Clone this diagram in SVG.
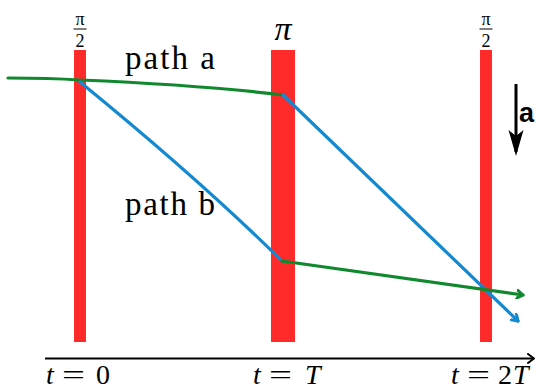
<svg xmlns="http://www.w3.org/2000/svg" width="539" height="390" viewBox="0 0 539 390">
<style>
.bar{fill:#ff2b2b}
.g{fill:none;stroke:#10892e;stroke-width:3.2;stroke-linecap:round;stroke-linejoin:round}
.b{fill:none;stroke:#1289d0;stroke-width:3.2;stroke-linecap:round;stroke-linejoin:round}
.sf{font-family:'Liberation Serif','DejaVu Serif',serif}
.ax{font-family:'Liberation Serif','DejaVu Serif',serif;font-size:28px}
</style>
<defs>
<marker id="ag" markerWidth="10" markerHeight="10" refX="7" refY="5" orient="auto" markerUnits="userSpaceOnUse"><path d="M1,1 L7,5 L1,9" fill="none" stroke="#10892e" stroke-width="3" stroke-linecap="round" stroke-linejoin="round"/></marker>
<marker id="ab" markerWidth="10" markerHeight="10" refX="7" refY="5" orient="auto" markerUnits="userSpaceOnUse"><path d="M1,1 L7,5 L1,9" fill="none" stroke="#1289d0" stroke-width="3" stroke-linecap="round" stroke-linejoin="round"/></marker>
<marker id="ak" markerWidth="12" markerHeight="12" refX="8" refY="6" orient="auto" markerUnits="userSpaceOnUse"><path d="M2,1.5 L8,6 L2,10.5" fill="none" stroke="#000" stroke-width="2" stroke-linecap="round" stroke-linejoin="round"/></marker>
</defs>
<g id="pulse1"><rect class="bar" x="74" y="50" width="12" height="292"/>
<text class="sf" x="80" y="25" font-size="18" text-anchor="middle">π</text>
<line x1="73.5" y1="29" x2="86.5" y2="29" stroke="#000" stroke-width="1"/>
<text class="sf" x="80" y="47" font-size="18" text-anchor="middle">2</text></g>
<g id="pulse2"><rect class="bar" x="271" y="50" width="24" height="292"/>
<text class="sf" x="283" y="40" font-size="34" font-style="italic" text-anchor="middle">π</text></g>
<g id="pulse3"><rect class="bar" x="480" y="50" width="12" height="292"/>
<text class="sf" x="486" y="25" font-size="18" text-anchor="middle">π</text>
<line x1="479.5" y1="29" x2="492.5" y2="29" stroke="#000" stroke-width="1"/>
<text class="sf" x="486" y="47" font-size="18" text-anchor="middle">2</text></g>
<g id="connectors">
<path class="g" d="M8,78 Q50,78 80,80 Q200,85 283,95"/>
<path class="b" d="M80,82 Q200,180 282,261"/>
<path class="b" d="M283,95 L518,321" marker-end="url(#ab)"/>
<path class="g" d="M282,261 L523,295" marker-end="url(#ag)"/>
<path d="M45,358.5 L534,358.5" stroke="#000" stroke-width="2" fill="none" marker-end="url(#ak)"/>
<path d="M516,84 L516,152" stroke="#000" stroke-width="3" fill="none"/>
<path d="M508.5,130 L516,156 L523.5,130 L516,136 Z" fill="#000"/>
</g>
<g id="labels" fill="#000">
<text class="sf" x="125" y="69" font-size="33" textLength="90" lengthAdjust="spacing">path a</text>
<text class="sf" x="125" y="215" font-size="33" textLength="90" lengthAdjust="spacing">path b</text>
<text x="519" y="122" font-family="'Liberation Sans', Arial, sans-serif" font-weight="bold" font-size="27">a</text>
<text class="ax" x="46" y="384" font-style="italic">t</text>
<text class="ax" x="62" y="384" textLength="23" lengthAdjust="spacingAndGlyphs">=</text>
<text class="ax" x="96" y="384">0</text>
<text class="ax" x="253" y="384" font-style="italic">t</text>
<text class="ax" x="269" y="384" textLength="23" lengthAdjust="spacingAndGlyphs">=</text>
<text class="ax" x="305" y="384" font-style="italic">T</text>
<text class="ax" x="451" y="384" font-style="italic">t</text>
<text class="ax" x="467" y="384" textLength="23" lengthAdjust="spacingAndGlyphs">=</text>
<text class="ax" x="498" y="384">2</text>
<text class="ax" x="513" y="384" font-style="italic">T</text>
</g>
</svg>
